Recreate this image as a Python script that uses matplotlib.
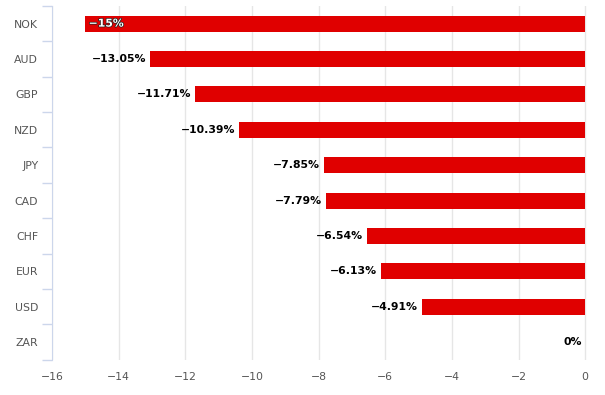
import matplotlib
matplotlib.use('Agg')
import matplotlib.pyplot as plt
import matplotlib.patheffects as pe

# Dữ liệu
currencies = ['NOK', 'AUD', 'GBP', 'NZD', 'JPY', 'CAD', 'CHF', 'EUR', 'USD', 'ZAR']
changes = [-15, -13.05, -11.71, -10.39, -7.85, -7.79, -6.54, -6.13, -4.91, 0]
xticks = [-16, -14, -12, -10, -8, -6, -4, -2, 0]

plt.rcParams['font.family'] = ['DejaVu Sans']
fig = plt.figure(figsize=(6.05, 3.95), dpi=100)
ax = fig.add_axes([0.086, 0.089, 0.884, 0.896])

y = list(range(len(currencies)))
ax.barh(y, changes, height=0.45, color='#e00000', zorder=3)

for yi, v in zip(y, changes):
    txt = ('%g%%' % v).replace('-', '\u2212')
    if v == 0:
        ax.text(-0.1, yi, txt, ha='right', va='center', fontsize=7.8,
                fontweight='bold', color='black', zorder=4)
    elif v <= -15:
        ax.text(v + 0.1, yi, txt, ha='left', va='center', fontsize=7.8,
                fontweight='bold', color='white', zorder=4,
                path_effects=[pe.withStroke(linewidth=1.0, foreground='#222222')])
    else:
        ax.text(v - 0.12, yi, txt, ha='right', va='center', fontsize=7.8,
                fontweight='bold', color='black', zorder=4)

ax.set_xlim(-16, 0.05)
ax.set_ylim(len(currencies) - 0.5, -0.5)
ax.set_xticks(xticks)
ax.set_xticklabels([str(t).replace('-', '\u2212') for t in xticks])
ax.tick_params(axis='x', length=0, pad=9, labelsize=7.8, labelcolor='#555555')

ax.set_yticks(y)
ax.set_yticklabels(currencies)
ax.set_yticks([i - 0.5 for i in range(len(currencies) + 1)], minor=True)
ax.tick_params(axis='y', which='major', length=0, pad=10, labelsize=7.8, labelcolor='#555555')
ax.tick_params(axis='y', which='minor', length=7, color='#ccd6eb', width=1)

ax.grid(axis='x', color='#e6e6e6', linewidth=1, zorder=0)
for s in ['top', 'right', 'bottom']:
    ax.spines[s].set_visible(False)
ax.spines['left'].set_color('#ccd6eb')

fig.savefig('out.png', dpi=100)
